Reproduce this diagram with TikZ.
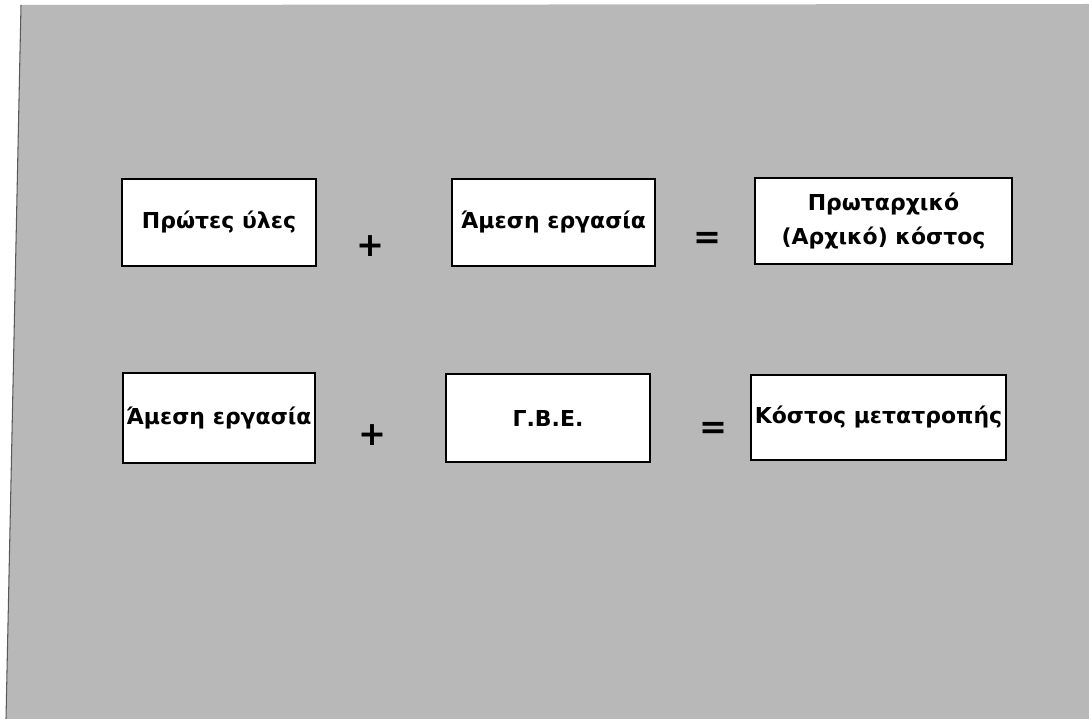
\documentclass[tikz,border=0pt]{standalone}
\usepackage{fontspec}
\setmainfont{DejaVu Sans}
\usepackage{tikz}
\colorlet{mygray}{black!28}
\colorlet{myedge}{black!65}

\tikzset{
  costbox/.style={draw, fill=white, line width=1.1pt, align=center, inner sep=2pt,
    font=\bfseries\fontsize{12.5}{19.5}\selectfont},
  opsign/.style={inner sep=0pt, font=\bfseries\fontsize{19}{19}\selectfont}
}

\begin{document}
\begin{tikzpicture}[x=0.02cm, y=-0.02cm]
		\useasboundingbox (0,0) rectangle (1089,719);
		
		% Scanned page background
		\fill[mygray] (21,5) -- (1089,4) -- (1089,719) -- (6,719) -- cycle;
		\draw[myedge, line width=0.6pt] (21,5) -- (6,719);
		
		% First row: prime cost
		\node[costbox, minimum width=3.88cm, minimum height=1.74cm] (raw) at (219,222.5) {Πρώτες ύλες};
		\node[opsign] (plusA) at (370,246) {+};
		\node[costbox, minimum width=4.06cm, minimum height=1.74cm] (labourA) at (553.5,222.5) {Άμεση εργασία};
		\node[opsign] (eqA) at (707,240) {=};
		\node[costbox, minimum width=5.14cm, minimum height=1.72cm] (prime) at (883.5,221) {Πρωταρχικό\\(Αρχικό) κόστος};
		
		% Second row: conversion cost
		\node[costbox, minimum width=3.80cm, minimum height=1.80cm] (labourB) at (219,418) {Άμεση εργασία};
		\node[opsign] (plusB) at (372,435) {+};
		\node[costbox, minimum width=4.08cm, minimum height=1.76cm] (overhead) at (548,418) {Γ.Β.Ε.};
		\node[opsign] (eqB) at (713,430) {=};
		\node[costbox, minimum width=5.06cm, minimum height=1.70cm] (conversion) at (878.5,417.5) {Κόστος μετατροπής};
	\end{tikzpicture}
\end{document}
